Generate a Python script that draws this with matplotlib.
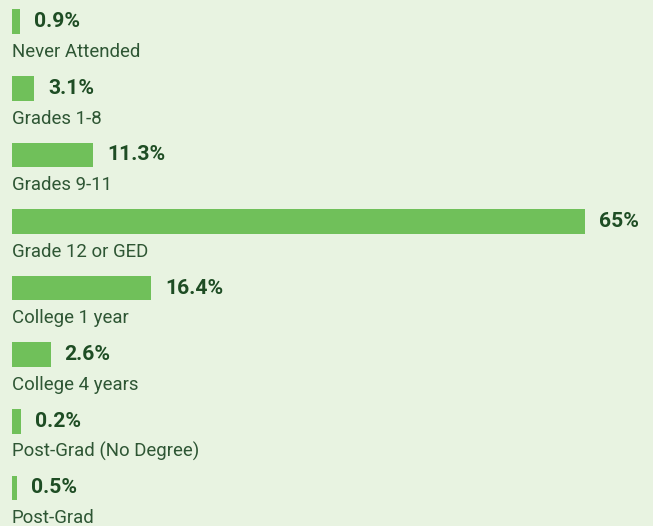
import matplotlib
matplotlib.use("Agg")
import matplotlib.pyplot as plt

categories = ["Never Attended", "Grades 1-8", "Grades 9-11", "Grade 12 or GED",
              "College 1 year", "College 4 years", "Post-Grad (No Degree)", "Post-Grad"]
value_labels = ["0.9%", "3.1%", "11.3%", "65%", "16.4%", "2.6%", "0.2%", "0.5%"]
# bar lengths as drawn in the picture (percent scale)
bar_lengths = [0.94, 2.53, 9.22, 65.0, 15.8, 4.42, 1.02, 0.57]

BG = "#e8f3e1"
BAR = "#70c05a"
VAL_COLOR = "#1e4d24"
CAT_COLOR = "#2e5634"

W, H = 653, 526
fig = plt.figure(figsize=(W / 100, H / 100), dpi=100)
fig.patch.set_facecolor(BG)
ax = fig.add_axes([0, 0, 1, 1])
ax.set_facecolor(BG)

scale = 573 / 65.0  # px per percent
left_px = 12
ax.set_xlim(-left_px / scale, (W - left_px) / scale)
ax.set_ylim(H, 0)
ax.axis("off")

y0, step, bh = 21.7, 66.6, 24.5
for i, (cat, lab, v) in enumerate(zip(categories, value_labels, bar_lengths)):
    yc = y0 + i * step
    ax.barh(yc, v, height=bh, left=0, color=BAR, edgecolor="none")
    ax.annotate(lab, xy=(v, yc), xytext=(9.8, 0), textcoords="offset points",
                ha="left", va="center", fontsize=15.2, fontweight="bold",
                color=VAL_COLOR, family="Roboto")
    ax.text(0, yc + 35.3, cat, ha="left", va="baseline", fontsize=13.4,
            color=CAT_COLOR, family="Roboto")

fig.savefig("out.png", dpi=100, facecolor=BG)
